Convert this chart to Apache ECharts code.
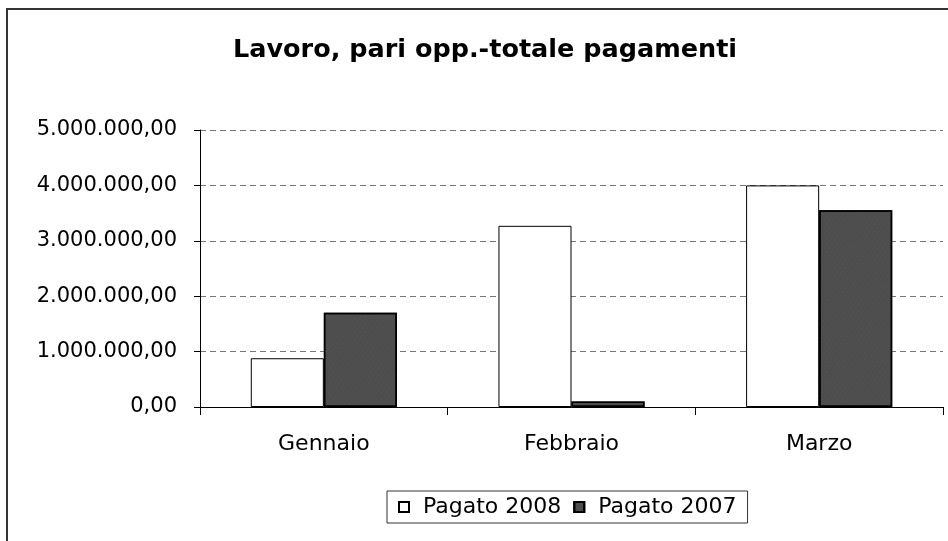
<!DOCTYPE html>
<html>
<head>
<meta charset="utf-8">
<script src="https://cdn.jsdelivr.net/npm/echarts@6/dist/echarts.min.js"></script>
<style>
  html, body { margin: 0; padding: 0; background: #fff; }
  #chart { width: 948px; height: 541px; }
</style>
</head>
<body>
<div id="chart"></div>
<script>
// Lavoro, pari opp. — totale pagamenti per mese
const MONTHS = ["Gennaio", "Febbraio", "Marzo"];
const PAGATO_2008 = [880000, 3270000, 4000000];
const PAGATO_2007 = [1700000, 100000, 3550000];
const Y_TICKS = [0, 1000000, 2000000, 3000000, 4000000, 5000000];

const FONT = "DejaVu Sans, Arial, sans-serif";

// 1234567 -> "1.234.567,00"
function formatIt(v) {
  const int = Math.round(v).toString().replace(/\B(?=(\d{3})+(?!\d))/g, ".");
  return int + ",00";
}

const chart = echarts.init(document.getElementById("chart"));

chart.setOption({
  backgroundColor: "#fff",
  animation: false,
  title: {
    text: "Lavoro, pari opp.-totale pagamenti",
    left: 228,
    top: 32,
    textStyle: { fontFamily: FONT, fontSize: 25.5, fontWeight: "bold", color: "#000" },
  },
  graphic: [
    // scanned frame: only top and left edges visible
    {
      type: "polyline",
      shape: { points: [[7, 541], [7, 9], [948, 9]] },
      style: { fill: "none", stroke: "#333", lineWidth: 2 },
      silent: true,
    },
  ],
  legend: {
    bottom: 18,
    left: 387,
    itemWidth: 10,
    itemHeight: 10,
    itemGap: 12,
    padding: [5, 11, 5, 11],
    borderColor: "#333",
    borderWidth: 1,
    icon: "rect",
    textStyle: { fontFamily: FONT, fontSize: 22, color: "#000", padding: [0, 0, 0, 9] },
    data: ["Pagato 2008", "Pagato 2007"],
  },
  grid: { left: 200, right: 5, top: 130, bottom: 134 },
  xAxis: {
    type: "category",
    data: MONTHS,
    axisLine: { lineStyle: { color: "#000", width: 1 } },
    axisTick: { show: true, length: 8, inside: false, lineStyle: { color: "#000" } },
    axisLabel: { fontFamily: FONT, fontSize: 22, color: "#000", margin: 26 },
  },
  yAxis: {
    type: "value",
    min: Y_TICKS[0],
    max: Y_TICKS[Y_TICKS.length - 1],
    interval: Y_TICKS[1] - Y_TICKS[0],
    axisLine: { show: true, lineStyle: { color: "#000", width: 1 } },
    axisTick: { show: true, length: 6, lineStyle: { color: "#000" } },
    axisLabel: {
      fontFamily: FONT,
      fontSize: 21,
      color: "#000",
      margin: 23,
      formatter: formatIt,
    },
    splitLine: { lineStyle: { color: "#777", width: 1, type: [6, 4] } },
  },
  series: [
    {
      name: "Pagato 2008",
      type: "bar",
      data: PAGATO_2008,
      barGap: "0%",
      barCategoryGap: "41%",
      itemStyle: { color: "#fff", borderColor: "#000", borderWidth: 1 },
    },
    {
      name: "Pagato 2007",
      type: "bar",
      data: PAGATO_2007,
      itemStyle: {
        color: "#4d4d4d",
        borderColor: "#000",
        borderWidth: 1.5,
        decal: {
          symbol: "rect",
          symbolSize: 0.3,
          color: "rgba(255,255,255,0.35)",
          dashArrayX: [1, 3],
          dashArrayY: [1, 2],
          rotation: 0.6,
        },
      },
    },
  ],
});
</script>
</body>
</html>
